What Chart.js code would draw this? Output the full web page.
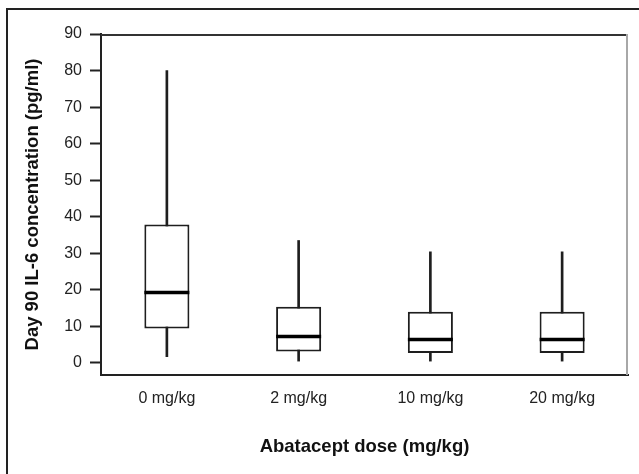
<!DOCTYPE html>
<html>
<head>
<meta charset="utf-8">
<script src="https://cdn.jsdelivr.net/npm/chart.js@4.4.1/dist/chart.umd.min.js"></script>
<style>
  html, body { margin: 0; padding: 0; background: #ffffff; }
  #wrap { width: 639px; height: 474px; }
</style>
</head>
<body>
<div id="wrap"><canvas id="c" width="639" height="474"></canvas></div>
<script>
const categories = ['0 mg/kg', '2 mg/kg', '10 mg/kg', '20 mg/kg'];
const whiskerLow = [1.7, 0.5, 0.5, 0.5];
const q1 = [9.4, 3.1, 2.7, 2.7];
const median = [19.3, 7.2, 6.4, 6.4];
const q3 = [37.9, 15.4, 14.0, 14.0];
const whiskerHigh = [80, 33.5, 30.4, 30.4];
const yTickValues = [0, 10, 20, 30, 40, 50, 60, 70, 80, 90];
const xTitle = 'Abatacept dose (mg/kg)';
const yTitle = 'Day 90 IL-6 concentration (pg/ml)';

const FAMILY = '"Liberation Sans", Arial, sans-serif';
const INK = '#1e1e1e';

const framePlugin = {
  id: 'frame',
  beforeDraw(chart) {
    const ctx = chart.ctx;
    ctx.save();
    ctx.fillStyle = '#ffffff';
    ctx.fillRect(0, 0, chart.width, chart.height);
    ctx.strokeStyle = '#222';
    ctx.lineWidth = 2;
    ctx.beginPath();
    ctx.moveTo(7, chart.height);
    ctx.lineTo(7, 9);
    ctx.lineTo(chart.width, 9);
    ctx.stroke();
    ctx.restore();
  },
  afterDraw(chart) {
    const a = chart.chartArea;
    const ctx = chart.ctx;
    ctx.save();
    ctx.lineWidth = 2;
    ctx.strokeStyle = '#333';
    ctx.beginPath();
    ctx.moveTo(a.left, a.top + 1);
    ctx.lineTo(a.right, a.top + 1);
    ctx.stroke();
    ctx.strokeStyle = '#a8a8a8';
    ctx.beginPath();
    ctx.moveTo(a.right - 1, a.top);
    ctx.lineTo(a.right - 1, a.bottom);
    ctx.stroke();
    ctx.restore();
  }
};

const boxData = categories.map((_, i) => [q1[i], q3[i]]);
const whiskerData = categories.map((_, i) => [whiskerLow[i], whiskerHigh[i]]);

new Chart(document.getElementById('c'), {
  data: {
    labels: categories,
    datasets: [
      {
        type: 'line',
        label: 'Median',
        data: median,
        showLine: false,
        pointStyle: 'line',
        pointRadius: 22.5,
        pointHoverRadius: 22.5,
        pointBorderWidth: 3.5,
        pointBorderColor: '#000',
        borderColor: '#000',
        order: 0
      },
      {
        type: 'bar',
        label: 'IQR',
        data: boxData,
        grouped: false,
        backgroundColor: '#ffffff',
        borderColor: INK,
        borderWidth: 2,
        borderSkipped: false,
        barPercentage: 0.342,
        categoryPercentage: 1,
        order: 1
      },
      {
        type: 'bar',
        label: 'Range',
        data: whiskerData,
        grouped: false,
        backgroundColor: INK,
        borderWidth: 0,
        barThickness: 2,
        order: 2
      }
    ]
  },
  options: {
    responsive: false,
    animation: false,
    events: [],
    layout: { autoPadding: false, padding: { left: 0, top: 34, right: 11, bottom: 0 } },
    plugins: { legend: { display: false }, tooltip: { enabled: false } },
    scales: {
      x: {
        type: 'category',
        offset: true,
        afterFit: s => { s.height = 99; s.paddingLeft = 0; s.paddingRight = 0; },
        grid: { display: false, drawOnChartArea: false, drawTicks: false },
        border: { display: true, color: '#222', width: 2 },
        ticks: { color: '#222', padding: 14, font: { family: FAMILY, size: 16 } },
        title: {
          display: true, text: xTitle, color: '#111',
          font: { family: FAMILY, size: 18.5, weight: 'bold' },
          padding: { top: 0, bottom: 16 }
        }
      },
      y: {
        type: 'linear',
        min: -3.3,
        max: 90,
        afterFit: s => { s.width = 101; },
        afterBuildTicks: s => { s.ticks = yTickValues.map(v => ({ value: v })); },
        grid: { drawOnChartArea: false, drawTicks: true, tickLength: 11, tickColor: '#222', tickWidth: 2 },
        border: { display: true, color: '#222', width: 2 },
        ticks: { color: '#222', padding: 8, font: { family: FAMILY, size: 16 } },
        title: {
          display: true, text: yTitle, color: '#111',
          font: { family: FAMILY, size: 18.5, weight: 'bold' },
          padding: { top: 22, bottom: 0 }
        }
      }
    }
  },
  plugins: [framePlugin]
});
</script>
</body>
</html>
